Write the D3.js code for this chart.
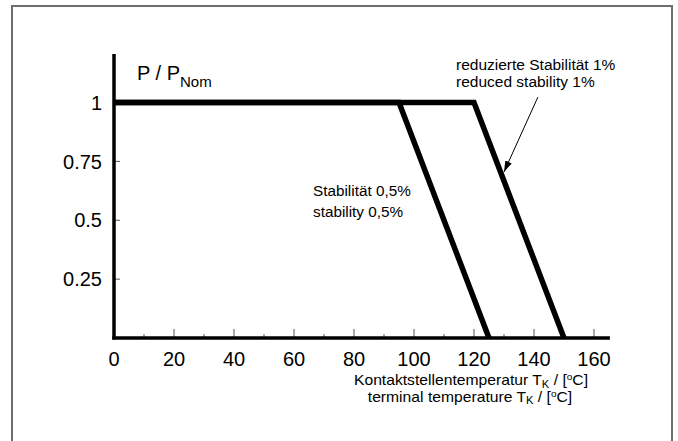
<!DOCTYPE html>
<html><head><meta charset="utf-8">
<script src="https://cdn.jsdelivr.net/npm/d3@7"></script>
<style>html,body{margin:0;padding:0;background:#fff;} svg{display:block;font-family:"Liberation Sans",Arial,sans-serif;}</style>
</head><body>
<svg id="c" width="678" height="441"></svg>
<script>
// data
const xTicks = [0, 20, 40, 60, 80, 100, 120, 140, 160];
const xMinorTicks = [10, 30, 50, 70, 90, 110, 130, 150];
const yTicks = [0.25, 0.5, 0.75, 1];
const yTickLabels = ["0.25", "0.5", "0.75", "1"];
// derating curves: [temperature, P/PNom]
const curveStability05 = [[0, 1], [95, 1], [125, 0]];
const curveStability1 = [[0, 1], [120, 1], [150, 0]];
const annoStability05 = ["Stabilität 0,5%", "stability 0,5%"];
const annoStability1 = ["reduzierte Stabilität 1%", "reduced stability 1%"];
const arrowFrom = [141.3, 1.023];
const arrowTo = [130, 0.705];

const svg = d3.select("#c");
const x = d3.scaleLinear().domain([0, 160]).range([114, 594]);
const y = d3.scaleLinear().domain([0, 1]).range([338, 102.5]);

// frame
svg.append("rect").attr("x", 12).attr("y", 6).attr("width", 660).attr("height", 460)
  .attr("fill", "none").attr("stroke", "#6e6e6e").attr("stroke-width", 2);

// minor/major x ticks (upwards from axis)
const gx = svg.append("g").attr("transform", "translate(0,338)");
gx.selectAll("line.maj").data(xTicks.slice(1)).join("line")
  .attr("x1", d => x(d)).attr("x2", d => x(d)).attr("y1", 0).attr("y2", -9)
  .attr("stroke", "#555").attr("stroke-width", 1);
gx.selectAll("line.min").data(xMinorTicks).join("line")
  .attr("x1", d => x(d)).attr("x2", d => x(d)).attr("y1", 0).attr("y2", -4)
  .attr("stroke", "#555").attr("stroke-width", 1);
gx.selectAll("text").data(xTicks).join("text")
  .attr("x", d => x(d)).attr("y", 28).attr("text-anchor", "middle")
  .attr("font-size", 20).attr("fill", "#000").text(d => d);

// y ticks
const gy = svg.append("g");
gy.selectAll("line").data(yTicks).join("line")
  .attr("x1", 114).attr("x2", 120).attr("y1", d => y(d)).attr("y2", d => y(d))
  .attr("stroke", "#555").attr("stroke-width", 1);
gy.selectAll("text").data(yTicks).join("text")
  .attr("x", 102).attr("y", d => y(d)).attr("dy", "0.36em").attr("text-anchor", "end")
  .attr("font-size", 20).attr("fill", "#000").text((d, i) => yTickLabels[i]);

// axes lines
svg.append("line").attr("x1", x(0)).attr("x2", x(0)).attr("y1", 54).attr("y2", 339.5)
  .attr("stroke", "#000").attr("stroke-width", 3.5);
svg.append("line").attr("x1", x(0) - 1.75).attr("x2", x(165.3)).attr("y1", 338).attr("y2", 338)
  .attr("stroke", "#000").attr("stroke-width", 3.5);

// curves
const line = d3.line().x(d => x(d[0])).y(d => y(d[1]));
[curveStability05, curveStability1].forEach(c => {
  svg.append("path").attr("d", line(c)).attr("fill", "none")
    .attr("stroke", "#000").attr("stroke-width", 5.5).attr("stroke-linejoin", "miter");
});

// y title
const yt = svg.append("text").attr("x", 137).attr("y", 80).attr("font-size", 20).attr("fill", "#000");
yt.append("tspan").text("P / P");
yt.append("tspan").attr("font-size", 15).attr("dy", 7).text("Nom");

// annotations
const a1 = svg.append("text").attr("font-size", 15.3).attr("fill", "#000");
a1.selectAll("tspan").data(annoStability05).join("tspan")
  .attr("x", 313).attr("y", (d, i) => 196 + i * 21).text(d => d);
const a2 = svg.append("text").attr("font-size", 15.5).attr("fill", "#000");
a2.selectAll("tspan").data(annoStability1).join("tspan")
  .attr("x", 456).attr("y", (d, i) => 70 + i * 17).text(d => d);

// arrow
svg.append("defs").append("marker").attr("id", "ah").attr("viewBox", "0 0 10 10")
  .attr("refX", 10).attr("refY", 5).attr("markerWidth", 11).attr("markerHeight", 11)
  .attr("markerUnits", "userSpaceOnUse").attr("orient", "auto")
  .append("path").attr("d", "M0,1.8 L10,5 L0,8.2 Z").attr("fill", "#000");
svg.append("line").attr("x1", x(arrowFrom[0])).attr("y1", y(arrowFrom[1]))
  .attr("x2", x(arrowTo[0])).attr("y2", y(arrowTo[1]))
  .attr("stroke", "#000").attr("stroke-width", 1).attr("marker-end", "url(#ah)");

// x title (reference glyphs are horizontally stretched)
function xTitle(label, cx, by) {
  const t = svg.append("text").attr("transform", `translate(${cx},${by}) scale(1.12,1)`)
    .attr("text-anchor", "middle").attr("font-size", 14).attr("fill", "#000");
  t.append("tspan").text(label + " T");
  t.append("tspan").attr("font-size", 10).attr("dy", 2.5).text("K");
  t.append("tspan").attr("dy", -2.5).text(" / [");
  t.append("tspan").attr("font-size", 9).attr("dy", -5).text("o");
  t.append("tspan").attr("dy", 5).text("C]");
}
xTitle("Kontaktstellentemperatur", 471, 385);
xTitle("terminal temperature", 470, 401.5);
</script>
</body></html>
